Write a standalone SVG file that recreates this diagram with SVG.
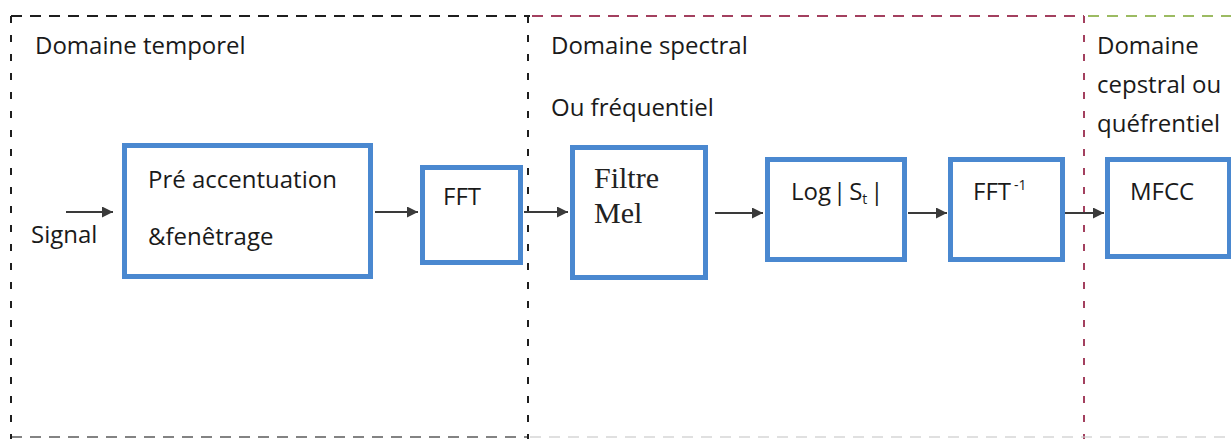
<svg xmlns="http://www.w3.org/2000/svg" width="1231" height="439" viewBox="0 0 1231 439">
  <style>
    .lbl { font-family: "Open Sans", "Liberation Sans", sans-serif; font-size: 24px; fill: #1a1a1a; }
    .box { fill: #ffffff; stroke: #4a88d0; stroke-width: 5; }
    .ser { font-family: "Liberation Serif", "DejaVu Serif", serif; font-size: 30px; fill: #222; }
    .conn { stroke: #3a3a3a; stroke-width: 2; fill: none; }
    .dk { stroke: #1e1e1e; stroke-width: 2; fill: none; }
    .mr { stroke: #a3405f; stroke-width: 2; fill: none; }
    .gr { stroke: #9cbb62; stroke-width: 2; fill: none; }
  </style>
  <defs>
    <marker id="ah" viewBox="0 0 10 10" refX="10" refY="5" markerWidth="11" markerHeight="11" markerUnits="userSpaceOnUse" orient="auto">
      <path d="M0,0 L10,5 L0,10 Z" fill="#3a3a3a"/>
    </marker>
  </defs>
  <rect width="1231" height="439" fill="#ffffff"/>

  <g id="domain-frames">
    <line class="dk" x1="11" y1="16" x2="530" y2="16" stroke-dasharray="11 8"/>
    <line class="dk" x1="11" y1="16" x2="11" y2="439" stroke-dasharray="7 12"/>
    <line class="dk" x1="528" y1="16" x2="528" y2="439" stroke-dasharray="7 12"/>
    <line class="dk" x1="11" y1="437" x2="528" y2="437" stroke-dasharray="11 8" opacity="0.55"/>
    <line class="mr" x1="532" y1="16" x2="1084" y2="16" stroke-dasharray="11 8"/>
    <line class="mr" x1="1084" y1="16" x2="1084" y2="439" stroke-dasharray="7 12"/>
    <line x1="530" y1="437" x2="1231" y2="437" stroke="#cccccc" stroke-width="2" stroke-dasharray="11 8" opacity="0.6"/>
    <line class="gr" x1="1088" y1="16" x2="1231" y2="16" stroke-dasharray="11 8"/>
  </g>

  <g id="domain-labels">
    <text class="lbl" x="35" y="54">Domaine temporel</text>
    <text class="lbl" x="551" y="54">Domaine spectral</text>
    <text class="lbl" x="551" y="116">Ou fréquentiel</text>
    <text class="lbl" x="1097" y="54">Domaine</text>
    <text class="lbl" x="1097" y="93">cepstral ou</text>
    <text class="lbl" x="1097" y="132">quéfrentiel</text>
  </g>

  <g id="signal">
    <text class="lbl" x="31" y="243">Signal</text>
  </g>

  <g id="node-preaccentuation">
    <rect class="box" x="124.5" y="145.5" width="246" height="131"/>
    <text class="lbl" x="148" y="188" font-size="23">Pré accentuation</text>
    <text class="lbl" x="148" y="245">&amp;fenêtrage</text>
  </g>

  <g id="node-fft">
    <rect class="box" x="422.5" y="167.5" width="98" height="95"/>
    <text class="lbl" x="443" y="205" font-size="23">FFT</text>
  </g>

  <g id="node-filtre-mel">
    <rect class="box" x="572.5" y="147.5" width="133" height="130"/>
    <text class="ser" x="594" y="188">Filtre</text>
    <text class="ser" x="594" y="223">Mel</text>
  </g>

  <g id="node-log">
    <rect class="box" x="767.5" y="159.5" width="137" height="100"/>
    <text class="lbl" x="791" y="200" font-size="22">Log<tspan dx="2">|</tspan><tspan dx="3">S</tspan><tspan font-size="14" dy="4">t</tspan><tspan dx="3" dy="-4">|</tspan></text>
  </g>

  <g id="node-fft-inv">
    <rect class="box" x="950.5" y="159.5" width="112" height="100"/>
    <text class="lbl" x="973" y="200" font-size="22">FFT<tspan font-size="14" dx="3" dy="-10">-1</tspan></text>
  </g>

  <g id="node-mfcc">
    <rect class="box" x="1107.5" y="159.5" width="122" height="97"/>
    <text class="lbl" x="1130" y="200" font-size="22">MFCC</text>
  </g>

  <g id="connectors">
    <line class="conn" x1="66" y1="212" x2="113" y2="212" marker-end="url(#ah)"/>
    <line class="conn" x1="375" y1="212" x2="418" y2="212" marker-end="url(#ah)"/>
    <line class="conn" x1="524" y1="212" x2="568" y2="212" marker-end="url(#ah)"/>
    <line class="conn" x1="715" y1="213" x2="763" y2="213" marker-end="url(#ah)"/>
    <line class="conn" x1="908" y1="213" x2="947" y2="213" marker-end="url(#ah)"/>
    <line class="conn" x1="1065" y1="213" x2="1104" y2="213" marker-end="url(#ah)"/>
  </g>
</svg>
